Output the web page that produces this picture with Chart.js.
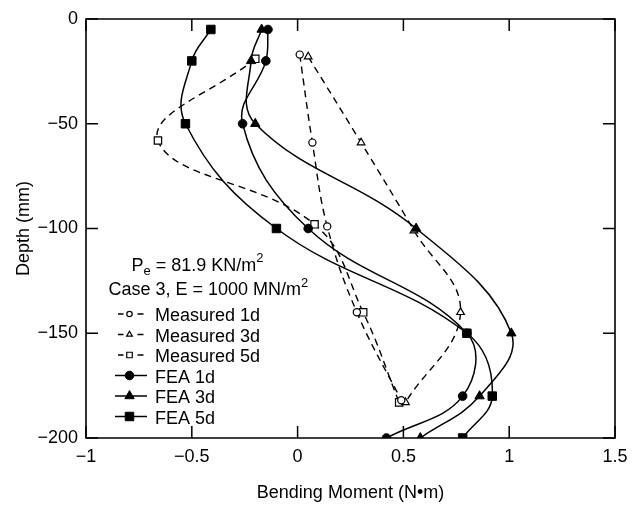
<!DOCTYPE html>
<html>
<head>
<meta charset="utf-8">
<script src="https://cdn.jsdelivr.net/npm/chart.js@4/dist/chart.umd.min.js"></script>
<style>
  html, body { margin: 0; padding: 0; background: #fff; }
  canvas { display: block; }
</style>
</head>
<body>
<canvas id="chart" width="642" height="506"></canvas>
<script>
// Depth positions (mm) of the FEA nodes and of the measured gauges
const depthFEA = [-5, -20, -50, -100, -150, -180, -200];
const depthMeasured1d = [-17, -59, -99, -140, -182];
const depthMeasured3d = [-18, -59, -101, -140, -183];
const depthMeasured5d = [-19, -58, -98, -140, -183];

// Bending moment (N·m)
const momentMeasured1d = [0.01, 0.07, 0.14, 0.28, 0.49];
const momentMeasured3d = [0.05, 0.30, 0.55, 0.77, 0.51];
const momentMeasured5d = [-0.20, -0.66, 0.08, 0.31, 0.48];
const momentFEA1d = [-0.14, -0.15, -0.26, 0.05, 0.80, 0.78, 0.42];
const momentFEA3d = [-0.17, -0.22, -0.20, 0.56, 1.01, 0.86, 0.58];
const momentFEA5d = [-0.41, -0.50, -0.53, -0.10, 0.80, 0.92, 0.78];

// Axis ticks
const xTicks = [-1, -0.5, 0, 0.5, 1, 1.5];
const yTicks = [0, -50, -100, -150, -200];

const seriesLabels = ['Measured 1d', 'Measured 3d', 'Measured 5d', 'FEA 1d', 'FEA 3d', 'FEA 5d'];

const FONT = "'Liberation Sans', Arial, Helvetica, sans-serif";
Chart.defaults.font.family = FONT;
Chart.defaults.color = '#000';

function pairs(xs, ys) {
  return xs.map((x, i) => ({ x: x, y: ys[i] }));
}

function measured(label, xs, ys, style, radius) {
  return {
    label: label,
    data: pairs(xs, ys),
    showLine: true,
    tension: 0.4,
    borderColor: '#000',
    borderWidth: 1.4,
    borderDash: [7, 5],
    pointStyle: style,
    pointRadius: radius,
    pointBorderWidth: 1.2,
    pointBackgroundColor: '#fff',
    pointBorderColor: '#000',
    legendRadius: radius * 0.75,
    order: 2
  };
}

function fea(label, xs, ys, style, radius) {
  return {
    label: label,
    data: pairs(xs, ys),
    showLine: true,
    tension: 0.4,
    borderColor: '#000',
    borderWidth: 1.5,
    pointStyle: style,
    pointRadius: radius,
    pointBorderWidth: 1,
    pointBackgroundColor: '#000',
    pointBorderColor: '#000',
    legendRadius: radius,
    order: 1
  };
}

const datasets = [
  measured(seriesLabels[0], momentMeasured1d, depthMeasured1d, 'circle', 3.6),
  measured(seriesLabels[1], momentMeasured3d, depthMeasured3d, 'triangle', 4.4),
  measured(seriesLabels[2], momentMeasured5d, depthMeasured5d, 'rect', 5.2),
  fea(seriesLabels[3], momentFEA1d, depthFEA, 'circle', 4.3),
  fea(seriesLabels[4], momentFEA3d, depthFEA, 'triangle', 5.4),
  fea(seriesLabels[5], momentFEA5d, depthFEA, 'rect', 6)
];

function fmtTick(v) {
  const s = String(v);
  return s.charAt(0) === '-' ? '\u2212' + s.slice(1) : s;
}

// Frame on all four sides with inward tick marks
const framePlugin = {
  id: 'frame',
  afterDraw(chart) {
    const ctx = chart.ctx;
    const a = chart.chartArea;
    const xs = chart.scales.x;
    const ys = chart.scales.y;
    const tl = 12;
    ctx.save();
    ctx.strokeStyle = '#000';
    ctx.lineWidth = 1.6;
    ctx.beginPath();
    ctx.rect(a.left, a.top, a.right - a.left, a.bottom - a.top);
    ctx.stroke();
    ctx.lineWidth = 1.5;
    ctx.beginPath();
    xTicks.forEach(v => {
      const px = xs.getPixelForValue(v);
      ctx.moveTo(px, a.bottom);
      ctx.lineTo(px, a.bottom - tl);
      ctx.moveTo(px, a.top);
      ctx.lineTo(px, a.top + tl);
    });
    yTicks.forEach(v => {
      const py = ys.getPixelForValue(v);
      ctx.moveTo(a.left, py);
      ctx.lineTo(a.left + tl, py);
      ctx.moveTo(a.right, py);
      ctx.lineTo(a.right - tl, py);
    });
    ctx.stroke();
    ctx.restore();
  }
};

// Load/material annotation and the series key
const keyPlugin = {
  id: 'key',
  afterDraw(chart) {
    const ctx = chart.ctx;
    const big = '18px ' + FONT;
    const small = '13px ' + FONT;
    ctx.save();
    ctx.fillStyle = '#000';
    ctx.textBaseline = 'alphabetic';
    ctx.textAlign = 'left';

    function runs(x, y, parts) {
      parts.forEach(p => {
        ctx.font = p.f;
        ctx.fillText(p.t, x, y + (p.dy || 0));
        x += ctx.measureText(p.t).width;
      });
    }

    runs(131.5, 271, [
      { t: 'P', f: big },
      { t: 'e', f: small, dy: 3.5 },
      { t: ' = 81.9 KN/m', f: big },
      { t: '2', f: small, dy: -9 }
    ]);
    runs(108.5, 295, [
      { t: 'Case 3, E = 1000 MN/m', f: big },
      { t: '2', f: small, dy: -8.5 }
    ]);

    const textX = 155;
    const firstBase = 321;
    const step = 20.5;
    chart.data.datasets.forEach((ds, i) => {
      const base = firstBase + i * step;
      const cy = base - 7;
      const cx = 129.5;
      ctx.strokeStyle = '#000';
      ctx.lineWidth = ds.borderWidth;
      ctx.beginPath();
      if (ds.borderDash) {
        ctx.moveTo(118, cy); ctx.lineTo(123.5, cy);
        ctx.moveTo(137.5, cy); ctx.lineTo(143.5, cy);
      } else {
        ctx.moveTo(115, cy); ctx.lineTo(147, cy);
      }
      ctx.stroke();
      ctx.fillStyle = ds.pointBackgroundColor;
      ctx.lineWidth = ds.pointBorderWidth;
      Chart.helpers.drawPoint(ctx, {
        pointStyle: ds.pointStyle,
        radius: ds.legendRadius,
        rotation: 0,
        borderWidth: ds.pointBorderWidth
      }, cx, cy);
      ctx.fillStyle = '#000';
      ctx.font = big;
      ctx.fillText(ds.label, textX, base);
    });
    ctx.restore();
  }
};

const setXTicks = s => { s.ticks = xTicks.map(v => ({ value: v })); };
const setYTicks = s => { s.ticks = yTicks.map(v => ({ value: v })); };

new Chart(document.getElementById('chart'), {
  type: 'scatter',
  data: { datasets: datasets },
  options: {
    responsive: false,
    animation: false,
    devicePixelRatio: 1,
    layout: { padding: { top: 19, right: 27, left: 0, bottom: 0 } },
    plugins: {
      legend: { display: false },
      tooltip: { enabled: false }
    },
    scales: {
      x: {
        type: 'linear',
        min: -1,
        max: 1.5,
        afterBuildTicks: setXTicks,
        afterFit: s => { s.height = 68; },
        grid: { display: false, drawTicks: false },
        border: { display: false },
        ticks: {
          padding: 8,
          font: { size: 18 },
          color: '#000',
          maxRotation: 0,
          callback: v => fmtTick(v)
        },
        title: {
          display: true,
          text: 'Bending Moment (N\u2022m)',
          font: { size: 18 },
          color: '#000',
          padding: { top: 0, bottom: 2 }
        }
      },
      y: {
        type: 'linear',
        min: -200,
        max: 0,
        afterBuildTicks: setYTicks,
        afterFit: s => { s.width = 86; },
        grid: { display: false, drawTicks: false },
        border: { display: false },
        ticks: {
          padding: 8,
          font: { size: 18 },
          color: '#000',
          callback: v => fmtTick(v)
        },
        title: {
          display: true,
          text: 'Depth (mm)',
          font: { size: 18 },
          color: '#000',
          padding: { top: 13, bottom: 0 }
        }
      }
    }
  },
  plugins: [framePlugin, keyPlugin]
});
</script>
</body>
</html>
